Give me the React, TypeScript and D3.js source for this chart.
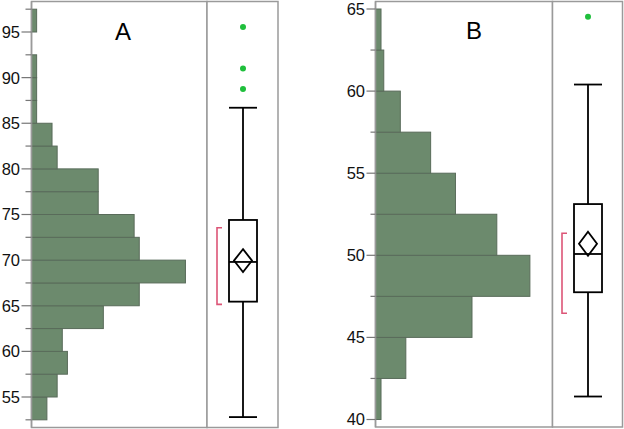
import React from "react";
import * as d3 from "d3";

// ---- Data ----
// Panel A histogram: bin lower edges (width 2.5) and counts
const binsA = [52.5, 55, 57.5, 60, 62.5, 65, 67.5, 70, 72.5, 75, 77.5, 80, 82.5, 85, 87.5, 90, 92.5, 95];
const countsA = [3, 5, 7, 6, 14, 21, 30, 21, 20, 13, 13, 5, 4, 1, 1, 1, 0, 1];
const ticksA = [55, 60, 65, 70, 75, 80, 85, 90, 95];
const minorA = [52.5, 57.5, 62.5, 67.5, 72.5, 77.5, 82.5, 87.5, 92.5, 97.5];
// five-number summary: [min whisker, q1, median, q3, max whisker]
const boxA = [52.8, 65.45, 69.8, 74.4, 86.7];
const meanA = [69.95, 1.25]; // mean, CI half width
const shortestHalfA = [65.15, 73.55];
const outliersA = [88.75, 91.0, 95.55];

// Panel B
const binsB = [40, 42.5, 45, 47.5, 50, 52.5, 55, 57.5, 60, 62.5];
const countsB = [2, 11, 35, 56, 44, 29, 20, 9, 3, 2];
const ticksB = [40, 45, 50, 55, 60, 65];
const minorB = [42.5, 47.5, 52.5, 57.5, 62.5];
const boxB = [41.4, 47.75, 50.08, 53.12, 60.4];
const meanB = [50.7, 0.73];
const shortestHalfB = [46.47, 51.34];
const outliersB = [64.53];

const BIN_W = 2.5;

const FILL = "#6c8a6d";
const BAR_STROKE = "#596b5a";
const FRAME = "#9a9a9a";
const RED = "#dc5577";
const DOT = "#1fbf3c";

type PanelProps = {
  label: string;
  bins: number[];
  counts: number[];
  ticks: number[];
  minor: number[];
  box: number[];
  mean: number[];
  half: number[];
  outliers: number[];
  yDomain: [number, number];
  yRange: [number, number];
  xMax: number;
  left: number;
  mid: number;
  right: number;
  top: number;
  bottom: number;
  labelX: number;
  labelY: number;
  majorLen: number;
  minorLen: number;
};

function Panel(p: PanelProps) {
  const y = d3.scaleLinear().domain(p.yDomain).range(p.yRange);
  const x = d3.scaleLinear().domain([0, p.xMax]).range([p.left, p.mid]);
  const cx = (p.mid + p.right) / 2 + 0.5;
  const boxHalf = 14;
  const capHalf = 14;
  const dHalfW = 9;
  const bracketX = cx - 26;
  return (
    <g>
      {/* frames */}
      <rect x={p.left} y={p.top} width={p.mid - p.left} height={p.bottom - p.top} fill="white" stroke={FRAME} strokeWidth={1.5} />
      <rect x={p.mid} y={p.top} width={p.right - p.mid} height={p.bottom - p.top} fill="white" stroke={FRAME} strokeWidth={1.5} />
      {/* bars */}
      {p.bins.map((b, i) =>
        p.counts[i] > 0 ? (
          <rect
            key={i}
            x={x(0)}
            y={y(b + BIN_W)}
            width={x(p.counts[i]) - x(0)}
            height={y(b) - y(b + BIN_W)}
            fill={FILL}
            stroke={BAR_STROKE}
            strokeWidth={1}
          />
        ) : null
      )}
      {/* axis */}
      <line x1={p.left} x2={p.left} y1={p.top} y2={p.bottom} stroke={FRAME} strokeWidth={1.5} />
      {p.ticks.map((t) => (
        <g key={"t" + t}>
          <line x1={p.left - p.majorLen} x2={p.left} y1={y(t)} y2={y(t)} stroke="#777" strokeWidth={1.2} />
          <text
            x={p.left - p.majorLen - 1.5}
            y={y(t)}
            dy="0.36em"
            textAnchor="end"
            fontFamily="Liberation Sans, Arial, sans-serif"
            fontSize={16.5}
            fill="#111"
          >
            {t}
          </text>
        </g>
      ))}
      {p.minor.map((t) => (
        <line key={"m" + t} x1={p.left - p.minorLen} x2={p.left} y1={y(t)} y2={y(t)} stroke="#777" strokeWidth={1.2} />
      ))}
      {/* label */}
      <text x={p.labelX} y={p.labelY} textAnchor="middle" fontFamily="Liberation Sans, Arial, sans-serif" fontSize={24} fill="#000">
        {p.label}
      </text>
      {/* box plot */}
      <line x1={cx} x2={cx} y1={y(p.box[0])} y2={y(p.box[1])} stroke="#000" strokeWidth={1.8} />
      <line x1={cx} x2={cx} y1={y(p.box[3])} y2={y(p.box[4])} stroke="#000" strokeWidth={1.8} />
      <line x1={cx - capHalf} x2={cx + capHalf} y1={y(p.box[0])} y2={y(p.box[0])} stroke="#000" strokeWidth={1.8} />
      <line x1={cx - capHalf} x2={cx + capHalf} y1={y(p.box[4])} y2={y(p.box[4])} stroke="#000" strokeWidth={1.8} />
      <rect x={cx - boxHalf} y={y(p.box[3])} width={boxHalf * 2} height={y(p.box[1]) - y(p.box[3])} fill="none" stroke="#000" strokeWidth={1.8} />
      <line x1={cx - boxHalf} x2={cx + boxHalf} y1={y(p.box[2])} y2={y(p.box[2])} stroke="#000" strokeWidth={1.8} />
      <path
        d={`M${cx},${y(p.mean[0] + p.mean[1])} L${cx + dHalfW},${y(p.mean[0])} L${cx},${y(p.mean[0] - p.mean[1])} L${cx - dHalfW},${y(p.mean[0])} Z`}
        fill="none"
        stroke="#000"
        strokeWidth={1.8}
      />
      {/* shortest half bracket */}
      <path
        d={`M${bracketX + 5},${y(p.half[1])} L${bracketX},${y(p.half[1])} L${bracketX},${y(p.half[0])} L${bracketX + 5},${y(p.half[0])}`}
        fill="none"
        stroke={RED}
        strokeWidth={1.6}
      />
      {p.outliers.map((o, i) => (
        <circle key={"o" + i} cx={cx} cy={y(o)} r={3} fill={DOT} />
      ))}
    </g>
  );
}

export default function App() {
  return (
    <svg width={624} height={429} style={{ position: "absolute", left: 0, top: 0, display: "block" }}>
      <rect width={624} height={429} fill="white" />
      <Panel
        label="A"
        bins={binsA}
        counts={countsA}
        ticks={ticksA}
        minor={minorA}
        box={boxA}
        mean={meanA}
        half={shortestHalfA}
        outliers={outliersA}
        yDomain={[55, 95]}
        yRange={[397, 32]}
        xMax={34.2}
        left={31.5}
        mid={207}
        right={278}
        top={1.5}
        bottom={427.5}
        labelX={123}
        labelY={40}
        majorLen={10}
        minorLen={6}
      />
      <Panel
        label="B"
        bins={binsB}
        counts={countsB}
        ticks={ticksB}
        minor={minorB}
        box={boxB}
        mean={meanB}
        half={shortestHalfB}
        outliers={outliersB}
        yDomain={[40, 65]}
        yRange={[419.5, 9]}
        xMax={64.2}
        left={375.5}
        mid={552.5}
        right={622.5}
        top={1.5}
        bottom={427}
        labelX={474}
        labelY={39}
        majorLen={9}
        minorLen={5}
      />
    </svg>
  );
}
